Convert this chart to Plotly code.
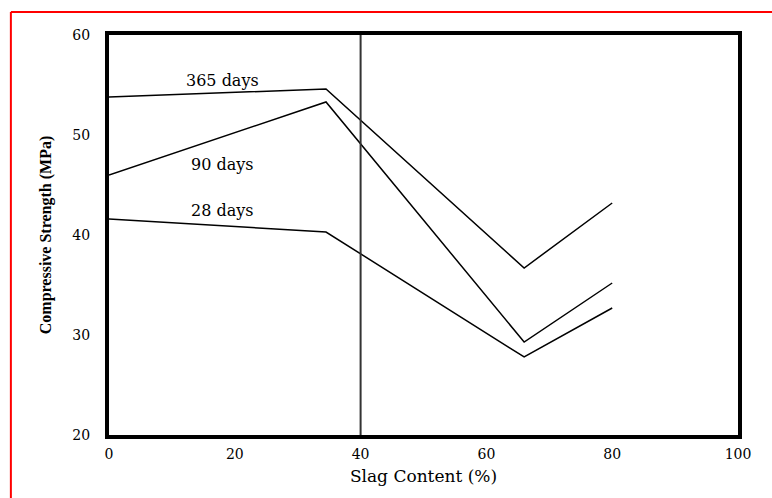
import plotly.graph_objects as go

# Slag content (%) and compressive strength (MPa) at each curing age
slag_content = [0, 34.5, 66, 80]
strength_365 = [53.8, 54.6, 36.7, 43.2]
strength_90 = [46.0, 53.3, 29.3, 35.2]
strength_28 = [41.6, 40.3, 27.8, 32.7]
series_names = ["365 days", "90 days", "28 days"]
label_pos = [(18, 55.5), (18, 47.1), (18, 42.5)]

x_ticks = [0, 20, 40, 60, 80, 100]
y_ticks = [20, 30, 40, 50, 60]

SERIF = "DejaVu Serif, Liberation Serif, serif"
TIMES = "Liberation Serif, Times New Roman, serif"

fig = go.Figure()
for name, vals in zip(series_names, [strength_365, strength_90, strength_28]):
    fig.add_trace(go.Scatter(
        x=slag_content, y=vals, mode="lines", name=name,
        line=dict(color="black", width=1.5),
        showlegend=False,
    ))

# Reference line at 40 % slag
fig.add_shape(type="line", x0=40, x1=40, y0=20, y1=60, xref="x", yref="y",
              line=dict(color="#333333", width=2))

for name, (lx, ly) in zip(series_names, label_pos):
    fig.add_annotation(x=lx, y=ly, text=name, showarrow=False,
                       font=dict(family=SERIF, size=16, color="black"))

# Red frame (top and left edges)
fig.add_shape(type="line", xref="paper", yref="paper",
              x0=-0.156, x1=1.1, y0=1.0575, y1=1.0575,
              line=dict(color="red", width=2))
fig.add_shape(type="line", xref="paper", yref="paper",
              x0=-0.156, x1=-0.156, y0=1.0575, y1=-0.2,
              line=dict(color="red", width=2))

fig.update_layout(
    width=772, height=498,
    margin=dict(l=109, r=34, t=35, b=63),
    paper_bgcolor="white", plot_bgcolor="white",
    font=dict(family=SERIF, size=14, color="black"),
    xaxis=dict(
        range=[0, 100], tickvals=x_ticks, ticktext=[str(v) for v in x_ticks],
        showgrid=False, zeroline=False, showline=True, mirror=True,
        linecolor="black", linewidth=4, ticks="", ticklabelstandoff=3,
        tickfont=dict(family=SERIF, size=14),
        title=dict(text="Slag Content (%)", standoff=10,
                   font=dict(family=SERIF, size=17, color="black")),
    ),
    yaxis=dict(
        range=[20, 60], tickvals=y_ticks, ticktext=[str(v) for v in y_ticks],
        showgrid=False, zeroline=False, showline=True, mirror=True,
        linecolor="black", linewidth=4, ticks="", ticklabelstandoff=12,
        tickfont=dict(family=SERIF, size=14),
        title=dict(text="<b>Compressive Strength (MPa)</b>", standoff=18,
                   font=dict(family=TIMES, size=16, color="black")),
    ),
)

fig.write_html("out.html")
